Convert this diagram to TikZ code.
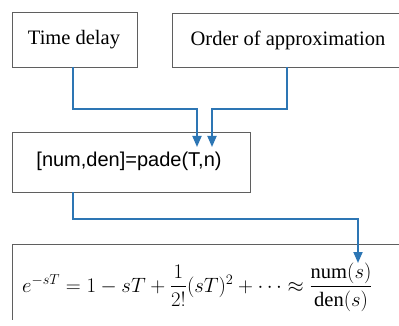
\documentclass[tikz,border=0pt]{standalone}
\usepackage{amsmath}
\usepackage{fontspec}
\setmainfont{Liberation Serif}
\setsansfont{Liberation Sans}
\usetikzlibrary{arrows.meta}
\definecolor{flow}{RGB}{45,118,180}
\definecolor{edge}{RGB}{95,95,95}
\tikzset{
  box/.style={draw=edge, line width=0.9pt, rectangle, inner sep=0pt},
  lbl/.style={font=\fontsize{20.5}{24}\selectfont},
  conn/.style={draw=flow, line width=1.8pt, -{Triangle[length=11pt,width=9pt]}},
}
\begin{document}
\begin{tikzpicture}[x=1pt,y=-1pt]
\useasboundingbox (0,0) rectangle (399,326);
\node[box, minimum width=125pt, minimum height=55pt, anchor=north west] (td) at (12,12) {};
\node[lbl] (tdt) at (74,40) {Time delay};
\node[box, minimum width=232pt, minimum height=54pt, anchor=north west] (ord) at (172,13) {};
\node[lbl] (ordt) at (288,40) {Order of approximation};
\node[box, minimum width=238pt, minimum height=60pt, anchor=north west] (pade) at (12,132) {};
\node[font=\sffamily\fontsize{20}{23}\selectfont] (padet) at (129,161) {[num,den]=pade(T,n)};
\coordinate (eqtl) at (12,244);
\coordinate (eqtr) at (402,244);
\coordinate (eqbl) at (12,320);
\draw[edge, line width=0.9pt] (eqtr) -- (eqtl) -- (eqbl);
\node[lbl, anchor=west, inner sep=0pt] (eq) at (22,287)
  {$e^{-sT} = 1 - sT + \dfrac{1}{2!}(sT)^2 + \cdots \approx \dfrac{\mathrm{num}(s)}{\mathrm{den}(s)}$};
\coordinate (s1) at (73,67);
\coordinate (s2) at (287,67);
\coordinate (s3) at (73,192);
\coordinate (a1) at (197,147);
\coordinate (a2) at (212,147);
\coordinate (a3) at (358,263);
\draw[conn] (s1) -- (73,109) -- (197,109) -- (a1);
\draw[conn] (s2) -- (287,109) -- (212,109) -- (a2);
\draw[conn] (s3) -- (73,219) -- (358,219) -- (a3);
\end{tikzpicture}
\end{document}
